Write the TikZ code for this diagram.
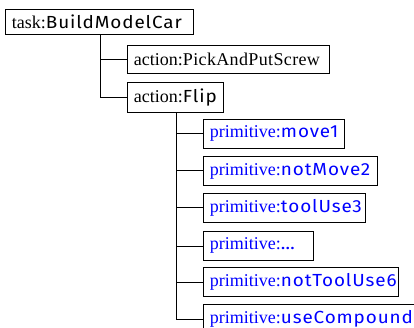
\documentclass[tikz,border=0pt]{standalone}
\usepackage{fontspec}
\setmainfont{Liberation Serif}
\newfontfamily\sufont[FakeStretch=1.08,LetterSpace=5]{Fira Sans}
\newfontfamily\serifsp[LetterSpace=2]{Liberation Serif}
\begin{document}
\begin{tikzpicture}[x=1pt,y=-1pt,
  box/.style={draw=black,line width=0.9pt,anchor=north west,inner xsep=6.5pt,inner ysep=0pt,
    align=left,text width=#1-13pt,font=\fontsize{18}{21}\selectfont},
  prim/.style={box=#1,text=blue,minimum height=29pt},
  conn/.style={draw=black,line width=0.9pt}]
\newcommand\sfx[1]{{\sufont\fontsize{17.5}{21}\selectfont #1}}
\useasboundingbox (0,0) rectangle (414,328);
\node[box=188pt,minimum height=25pt] (task) at (5,9) {\mbox{task:\sfx{BuildModelCar}}};
\node[box=202pt,minimum height=28pt] (pick) at (127,45) {\mbox{action:{\serifsp\fontsize{18}{21}\selectfont PickAndPutScrew}}};
\node[box=96pt,minimum height=30pt] (flip) at (127,82) {\mbox{action:\sfx{Flip}}};
\node[prim=141pt] (p1) at (203,119) {\mbox{primitive:\sfx{move1}}};
\node[prim=174pt] (p2) at (203,156) {\mbox{primitive:\sfx{notMove2}}};
\node[prim=162pt] (p3) at (203,193) {\mbox{primitive:\sfx{toolUse3}}};
\node[prim=110pt] (p4) at (203,231) {\mbox{primitive:\sfx{\dots}}};
\node[prim=195pt] (p5) at (203,267) {\mbox{primitive:\sfx{notToolUse6}}};
\node[prim=225pt] (p6) at (203,304) {\mbox{primitive:\sfx{useCompound}}};
\coordinate (t0) at (100,0);
\coordinate (f0) at (176,0);
\draw[conn] (task.south -| t0) |- (pick.west);
\draw[conn] (task.south -| t0) |- (flip.west);
\foreach \p in {p1,p2,p3,p4,p5,p6}{
  \draw[conn] (flip.south -| f0) |- (\p.west);
}
\end{tikzpicture}
\end{document}
